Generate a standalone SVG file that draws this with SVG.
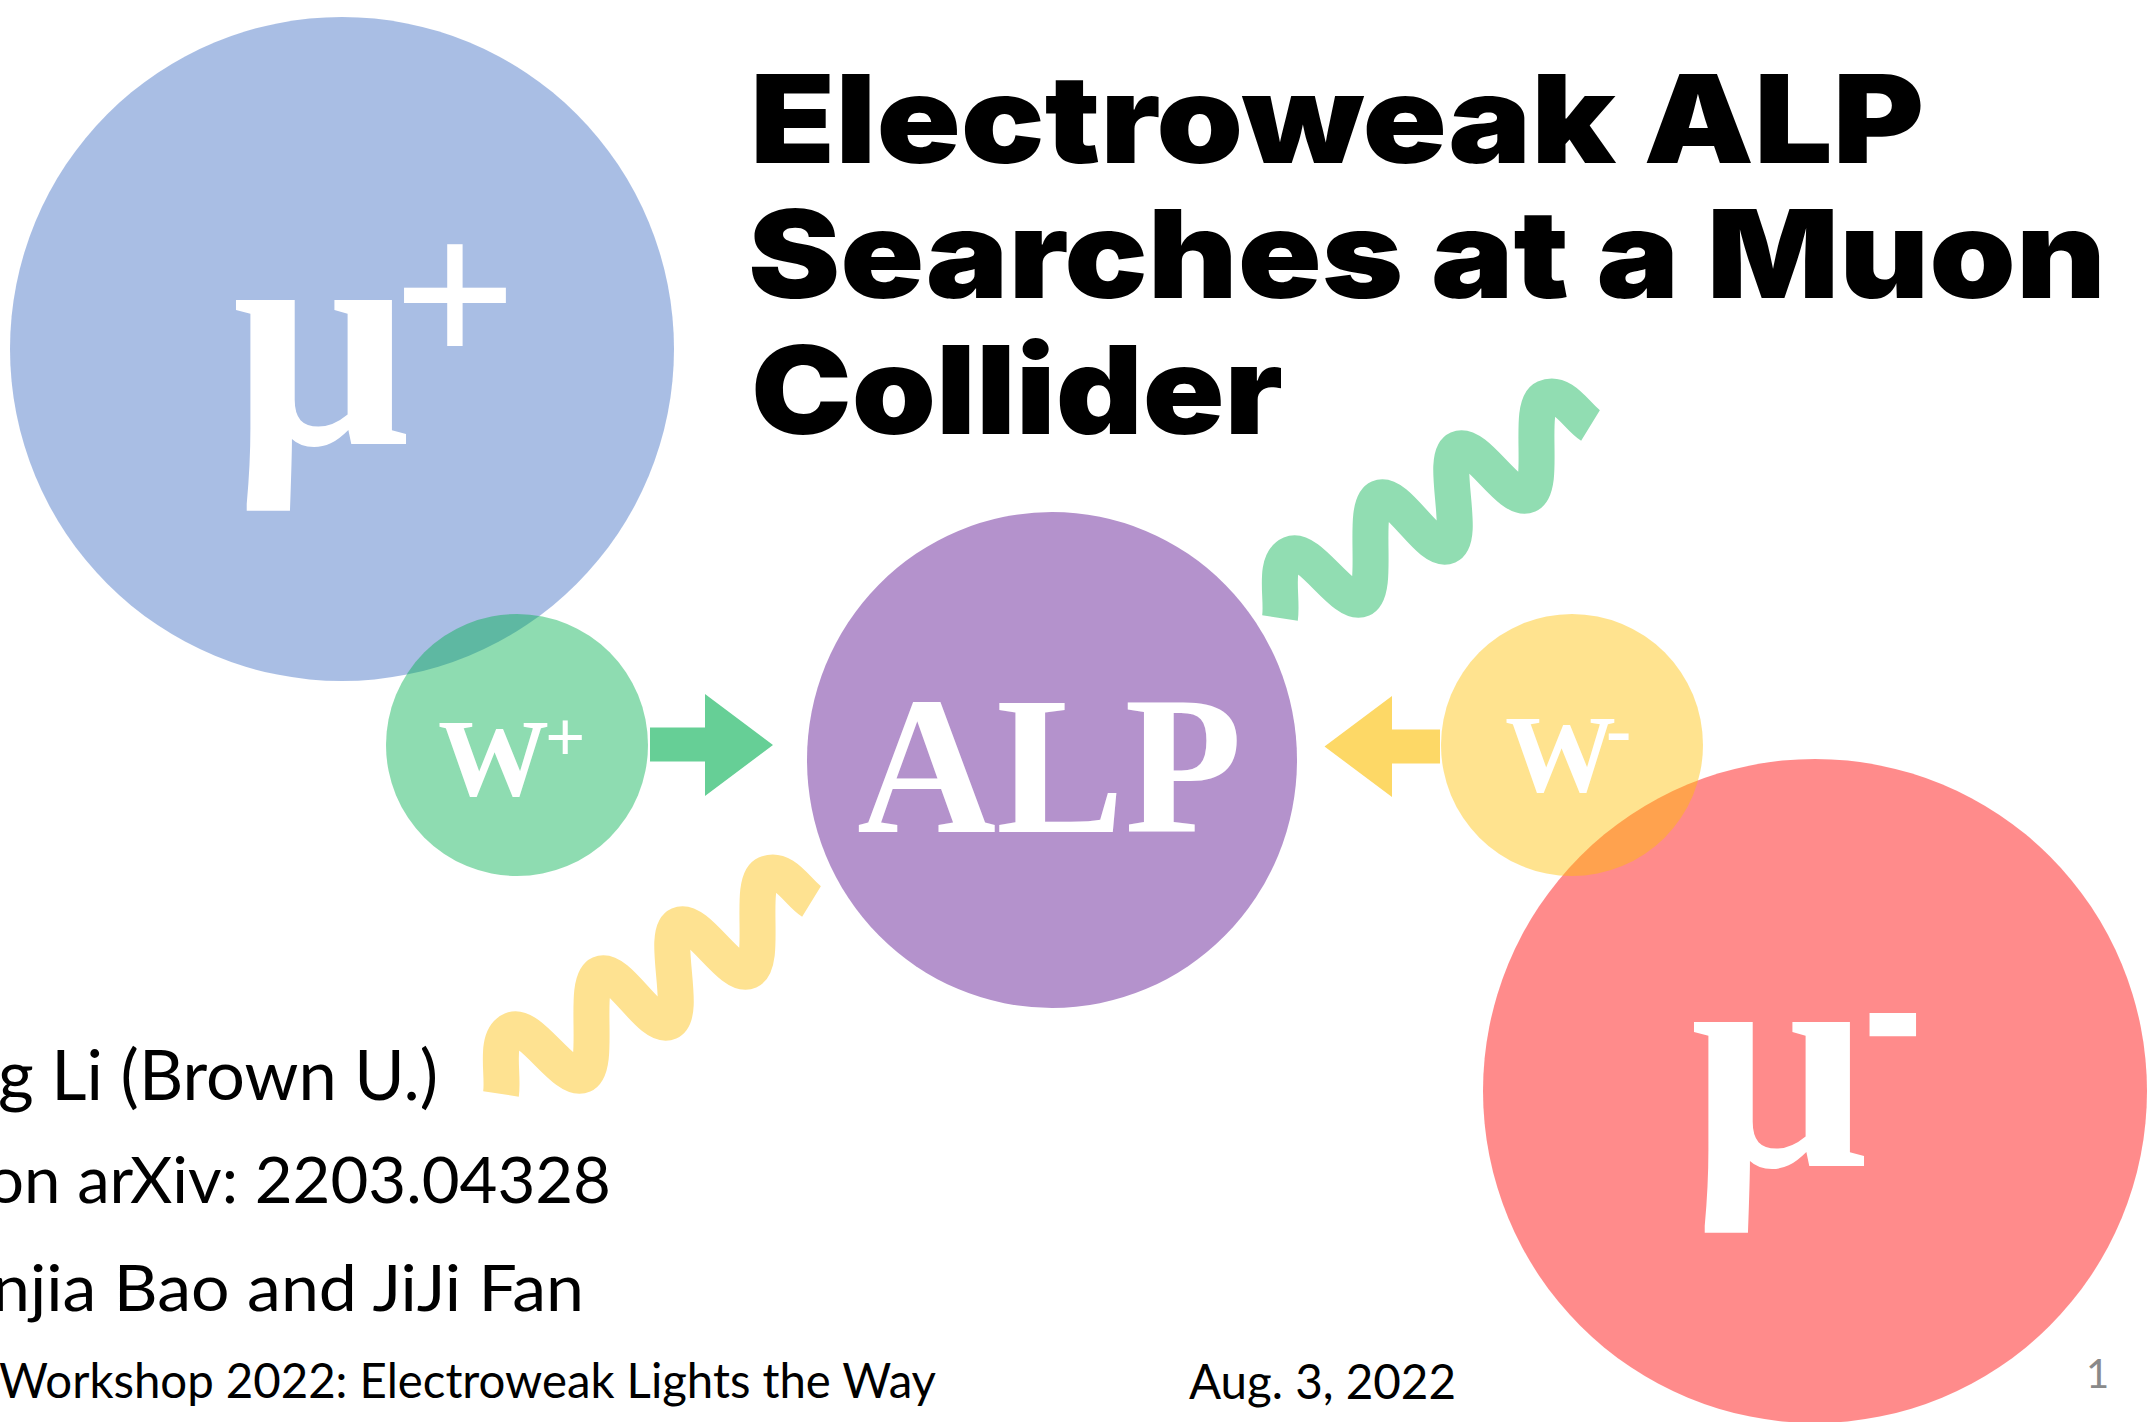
<svg xmlns="http://www.w3.org/2000/svg" xmlns:xlink="http://www.w3.org/1999/xlink" width="2147" height="1422" viewBox="0 0 2147 1422">
  <style>
    .title { font-family: "Inter", "Roboto", "Lato", "Liberation Sans", sans-serif; font-weight: 900; font-size: 122px; fill: #000000; }
    .sym { font-family: "Liberation Serif", "Times New Roman", serif; font-weight: bold; fill: #ffffff; }
    .body { font-family: "Lato", "Open Sans", "Liberation Sans", sans-serif; fill: #000000; }
    .wave { fill: none; stroke-width: 36; stroke-linecap: butt; stroke-linejoin: round; }
  </style>
  <defs>
    <path id="wave-shape" d="M 501 1094 C 504 1074 493.7 1038.1 512 1030 C 530.3 1021.9 564.7 1083.1 583 1075 C 601.3 1066.9 581.7 982.1 600 974 C 618.3 965.9 650.7 1030.1 669 1022 C 687.3 1013.9 660.7 933.1 679 925 C 697.3 916.9 730.7 979.1 749 971 C 767.3 962.9 747.7 882.1 766 874 C 784.3 865.9 798.7 893.7 811.5 901.5"/>
  </defs>
  <rect width="2147" height="1422" fill="#ffffff"/>

  <g id="node-mu-plus">
    <circle cx="342" cy="349" r="332" fill="#4472C4" fill-opacity="0.46"/>
    <text class="sym" x="232" y="444" font-size="314">μ</text>
    <text class="sym" x="455" y="368" font-size="219" text-anchor="middle">+</text>
  </g>

  <g id="node-w-plus">
    <circle cx="517" cy="745" r="131" fill="#00B050" fill-opacity="0.445"/>
    <text class="sym" x="438" y="795" font-size="111">W</text>
    <text class="sym" x="545" y="761" font-size="71">+</text>
  </g>

  <g id="node-alp">
    <ellipse cx="1052" cy="760" rx="245" ry="248" fill="#B492CC"/>
    <text class="sym" x="857" y="832" font-size="198" textLength="385" lengthAdjust="spacingAndGlyphs">ALP</text>
  </g>

  <g id="node-mu-minus">
    <circle cx="1815" cy="1091" r="332" fill="#FF0000" fill-opacity="0.455"/>
    <text class="sym" x="1690" y="1166" font-size="314">μ</text>
    <text class="sym" x="1863" y="0" font-size="179" transform="translate(0,1088.7) scale(1,1.52)">-</text>
  </g>

  <g id="node-w-minus">
    <circle cx="1572" cy="745" r="131" fill="#FFC000" fill-opacity="0.44"/>
    <text class="sym" x="1505" y="791" font-size="111">W</text>
    <text class="sym" x="1606" y="755" font-size="76">-</text>
  </g>

  <g id="decor-waves">
    <use xlink:href="#wave-shape" class="wave" stroke="#FEE291"/>
    <use xlink:href="#wave-shape" class="wave" stroke="#91DDB2" transform="translate(779,-476)"/>
  </g>

  <g id="connectors">
    <polygon id="arrow-wplus-alp" points="650,727.5 705,727.5 705,694 773,745 705,796 705,761.5 650,761.5" fill="#66CF96"/>
    <polygon id="arrow-wminus-alp" points="1440,729.5 1392,729.5 1392,696 1324.5,746.5 1392,797 1392,763.5 1440,763.5" fill="#FDD866"/>
  </g>

  <g id="node-title">
    <text class="title" x="750" y="163" textLength="1174" lengthAdjust="spacingAndGlyphs">Electroweak ALP</text>
    <text class="title" x="748" y="298" textLength="1358" lengthAdjust="spacingAndGlyphs">Searches at a Muon</text>
    <text class="title" x="751" y="434" textLength="532" lengthAdjust="spacingAndGlyphs">Collider</text>
  </g>

  <g id="node-author">
    <text class="body" x="-2" y="1100" font-size="70" textLength="440" lengthAdjust="spacingAndGlyphs">g Li (Brown U.)</text>
    <text class="body" x="-13" y="1203" font-size="64" textLength="624" lengthAdjust="spacingAndGlyphs">on arXiv: 2203.04328</text>
    <text class="body" x="-8" y="1311" font-size="64" textLength="592" lengthAdjust="spacingAndGlyphs">njia Bao and JiJi Fan</text>
  </g>

  <g id="node-footer">
    <text class="body" x="-1" y="1398" font-size="48" textLength="937" lengthAdjust="spacingAndGlyphs">Workshop 2022: Electroweak Lights the Way</text>
    <text class="body" x="1189" y="1399" font-size="48" textLength="267" lengthAdjust="spacingAndGlyphs">Aug. 3, 2022</text>
    <text class="body" x="2086" y="1388" font-size="40" style="fill:#898989">1</text>
  </g>
</svg>
